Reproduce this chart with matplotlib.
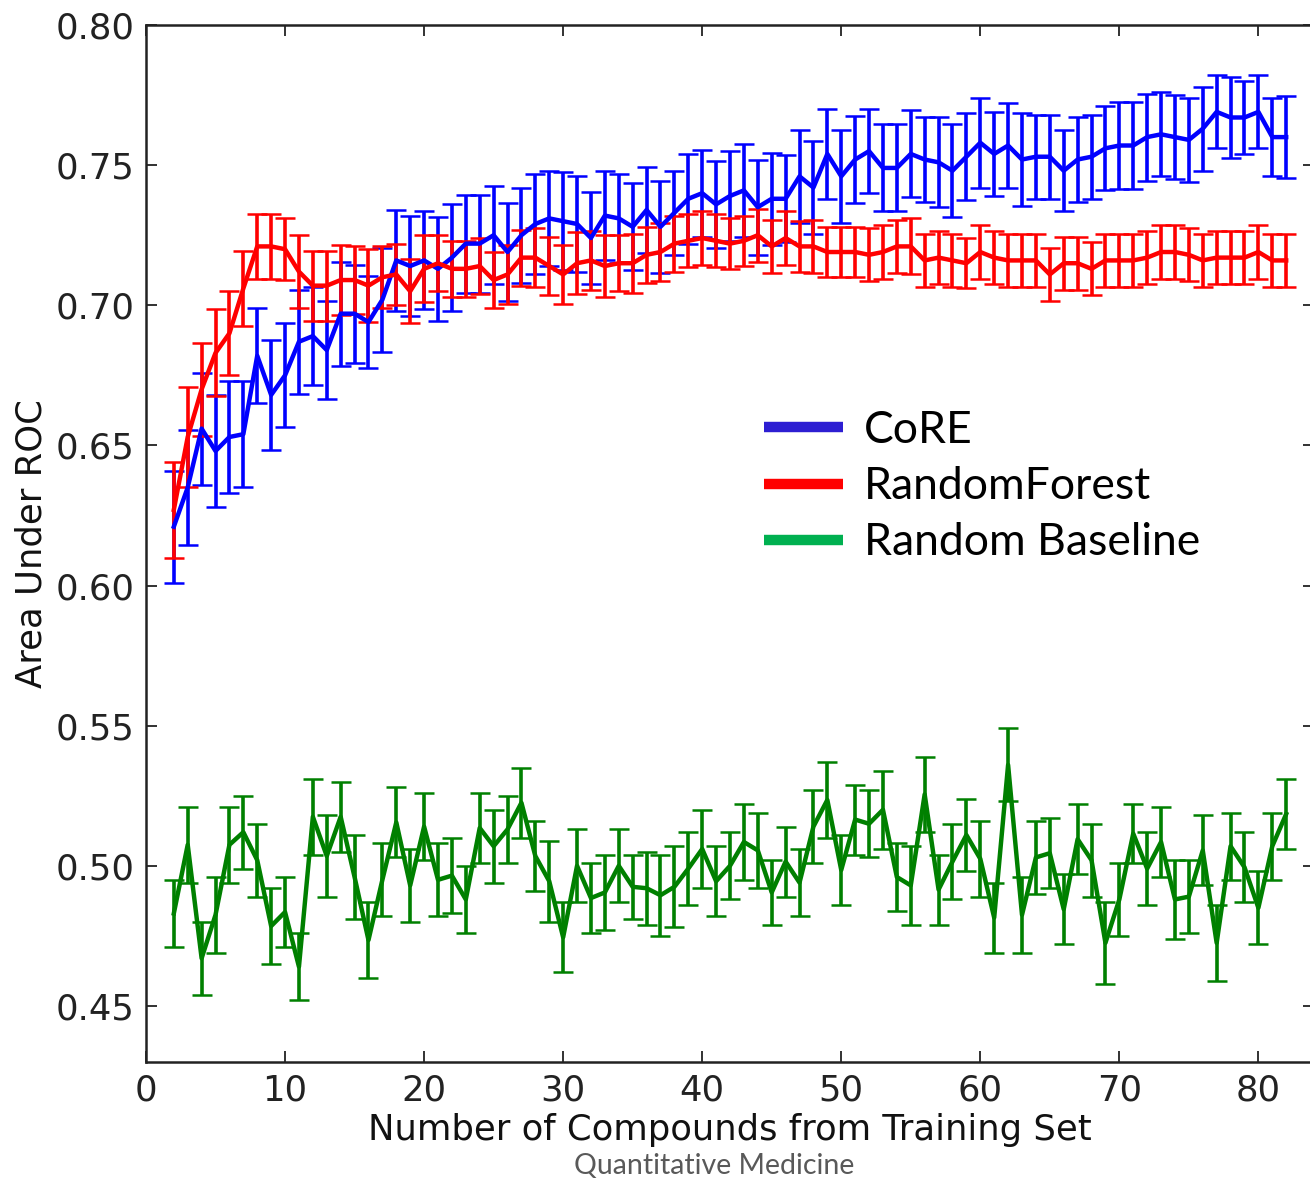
import matplotlib
matplotlib.use("Agg")
from matplotlib import pyplot as plt
from matplotlib.lines import Line2D
import numpy as np

n_compounds = list(range(2, 83))

core_auc = [
    0.621, 0.635, 0.656, 0.648, 0.653, 0.654, 0.682, 0.668, 0.675, 0.687,
    0.689, 0.684, 0.697, 0.697, 0.694, 0.702, 0.716, 0.714, 0.716, 0.713,
    0.717, 0.722, 0.722, 0.725, 0.719, 0.725, 0.729, 0.731, 0.730, 0.729,
    0.724, 0.732, 0.731, 0.728, 0.734, 0.728, 0.733, 0.738, 0.740, 0.736,
    0.739, 0.741, 0.735, 0.738, 0.738, 0.746, 0.742, 0.754, 0.746, 0.752,
    0.755, 0.749, 0.749, 0.754, 0.752, 0.751, 0.748, 0.753, 0.758, 0.754,
    0.757, 0.752, 0.753, 0.753, 0.748, 0.752, 0.753, 0.756, 0.757, 0.757,
    0.760, 0.761, 0.760, 0.759, 0.763, 0.769, 0.767, 0.767, 0.769, 0.760,
    0.760,
]
core_err = [
    0.020, 0.0205, 0.020, 0.020, 0.020, 0.019, 0.017, 0.0195, 0.0185, 0.0185,
    0.0175, 0.0175, 0.0185, 0.0175, 0.0165, 0.0185, 0.018, 0.018, 0.0175, 0.0185,
    0.019, 0.0175, 0.0175, 0.0175, 0.0175, 0.017, 0.018, 0.017, 0.0175, 0.017,
    0.0165, 0.016, 0.016, 0.0155, 0.0155, 0.0165, 0.015, 0.016, 0.0155, 0.0155,
    0.016, 0.0165, 0.017, 0.0165, 0.0155, 0.0165, 0.0165, 0.016, 0.0165, 0.0155,
    0.015, 0.0155, 0.0155, 0.0155, 0.015, 0.016, 0.0165, 0.0155, 0.016, 0.015,
    0.015, 0.0165, 0.015, 0.015, 0.0145, 0.015, 0.015, 0.015, 0.0155, 0.0155,
    0.0155, 0.015, 0.015, 0.015, 0.015, 0.013, 0.0145, 0.013, 0.013, 0.014,
    0.0145,
]

rf_auc = [
    0.627, 0.653, 0.670, 0.683, 0.690, 0.706, 0.721, 0.721, 0.720, 0.712,
    0.707, 0.707, 0.709, 0.709, 0.707, 0.710, 0.711, 0.705, 0.713, 0.715,
    0.713, 0.713, 0.714, 0.709, 0.711, 0.717, 0.717, 0.714, 0.711, 0.715,
    0.716, 0.714, 0.715, 0.715, 0.718, 0.719, 0.722, 0.723, 0.724, 0.723,
    0.722, 0.723, 0.725, 0.721, 0.724, 0.721, 0.721, 0.719, 0.719, 0.719,
    0.718, 0.719, 0.721, 0.721, 0.716, 0.717, 0.716, 0.715, 0.719, 0.717,
    0.716, 0.716, 0.716, 0.711, 0.715, 0.715, 0.713, 0.716, 0.716, 0.716,
    0.717, 0.719, 0.719, 0.718, 0.716, 0.717, 0.717, 0.717, 0.719, 0.716,
    0.716,
]
rf_err = [
    0.017, 0.018, 0.0165, 0.0155, 0.015, 0.0135, 0.0115, 0.0115, 0.011, 0.013,
    0.0125, 0.0125, 0.0125, 0.012, 0.013, 0.011, 0.011, 0.0115, 0.012, 0.010,
    0.010, 0.010, 0.010, 0.010, 0.0105, 0.010, 0.0105, 0.0105, 0.0105, 0.011,
    0.0105, 0.011, 0.010, 0.0105, 0.010, 0.0105, 0.010, 0.0095, 0.0095, 0.0095,
    0.009, 0.009, 0.0095, 0.0095, 0.0095, 0.009, 0.0095, 0.009, 0.009, 0.009,
    0.0095, 0.0095, 0.0095, 0.010, 0.0095, 0.0095, 0.0095, 0.009, 0.0095, 0.0095,
    0.0095, 0.0095, 0.0095, 0.0095, 0.0095, 0.0095, 0.0095, 0.0095, 0.0095, 0.0095,
    0.0095, 0.0095, 0.0095, 0.0095, 0.0095, 0.0095, 0.0095, 0.0095, 0.0095, 0.0095,
    0.0095,
]

baseline_auc = [
    0.483, 0.5075, 0.467, 0.4825, 0.5075, 0.512, 0.502, 0.4785, 0.4835, 0.464,
    0.5175, 0.5035, 0.5175, 0.496, 0.4735, 0.495, 0.5155, 0.493, 0.514, 0.495,
    0.4965, 0.488, 0.5135, 0.507, 0.513, 0.5225, 0.5035, 0.4945, 0.4745, 0.500,
    0.4885, 0.4905, 0.500, 0.4925, 0.492, 0.4895, 0.4925, 0.499, 0.506, 0.4945,
    0.500, 0.5085, 0.5055, 0.4905, 0.5015, 0.494, 0.514, 0.5235, 0.4985, 0.5165,
    0.515, 0.520, 0.496, 0.493, 0.5255, 0.4915, 0.5015, 0.511, 0.5025, 0.4815,
    0.536, 0.4825, 0.503, 0.5045, 0.4845, 0.5095, 0.502, 0.4725, 0.488, 0.5115,
    0.499, 0.5085, 0.488, 0.489, 0.5055, 0.4725, 0.507, 0.4995, 0.485, 0.507,
    0.5185,
]
baseline_err = [
    0.012, 0.0135, 0.013, 0.0135, 0.0135, 0.013, 0.013, 0.0135, 0.0125, 0.012,
    0.0135, 0.0145, 0.0125, 0.015, 0.0135, 0.013, 0.0125, 0.013, 0.012, 0.013,
    0.0135, 0.012, 0.0125, 0.013, 0.012, 0.0125, 0.0125, 0.0145, 0.0125, 0.013,
    0.0125, 0.0135, 0.013, 0.0115, 0.013, 0.0145, 0.0145, 0.013, 0.014, 0.0125,
    0.012, 0.0135, 0.0135, 0.0115, 0.0125, 0.012, 0.013, 0.0135, 0.0125, 0.0125,
    0.012, 0.014, 0.012, 0.014, 0.0135, 0.0125, 0.0135, 0.013, 0.0135, 0.0125,
    0.013, 0.0135, 0.013, 0.0125, 0.0125, 0.0125, 0.013, 0.0145, 0.013, 0.0105,
    0.013, 0.0125, 0.014, 0.013, 0.0125, 0.0135, 0.012, 0.0125, 0.013, 0.012,
    0.0125,
]

series = [
    ("CoRE", core_auc, core_err, "#0000ff", "#2d1ed2"),
    ("RandomForest", rf_auc, rf_err, "#ff0000", "#ff0000"),
    ("Random Baseline", baseline_auc, baseline_err, "#008000", "#00b050"),
]

W, H = 1310, 1179
fig = plt.figure(figsize=(W / 100, H / 100), dpi=100)
# right spine sits just past the image edge in the original crop
ax = fig.add_axes([146 / W, 117 / H, 1168 / W, 1037 / H])

for name, mean, err, color, _ in series:
    ax.errorbar(
        n_compounds, mean, yerr=err, color=color, lw=3.2,
        elinewidth=2.6, capsize=7, capthick=1.8,
    )

ax.set_xlim(0, 84)
ax.set_ylim(0.43, 0.80)
ax.set_xticks(np.arange(0, 81, 10))
ax.set_yticks(np.arange(0.45, 0.801, 0.05))
ax.yaxis.set_major_formatter(matplotlib.ticker.FormatStrFormatter("%.2f"))
ax.tick_params(direction="in", length=8, width=1.3, top=True, right=True,
               labelsize=25.5, colors="#222222", pad=8)
for sp in ax.spines.values():
    sp.set_linewidth(1.8)
    sp.set_color("#222222")

ax.set_xlabel("Number of Compounds from Training Set", fontsize=25.5,
              color="#111111", labelpad=4)
ax.set_ylabel("Area Under ROC", fontsize=25.5, color="#111111", labelpad=5)

handles = [Line2D([], [], color=lc, lw=7.5, solid_capstyle="butt")
           for _, _, _, _, lc in series]
ax.legend(handles, [s[0] for s in series], loc="upper left",
          bbox_to_anchor=(764 / W, 1 - 410 / H), bbox_transform=fig.transFigure,
          frameon=False, borderpad=0, borderaxespad=0, handlelength=1.78,
          handletextpad=0.47, labelspacing=0.34,
          prop={"family": "Lato", "size": 32})

fig.text(714 / W, 1 - 1166 / H, "Quantitative Medicine", ha="center",
         va="center", fontsize=20.5, color="#595959", family="Lato")

fig.savefig("out.png", dpi=100)
